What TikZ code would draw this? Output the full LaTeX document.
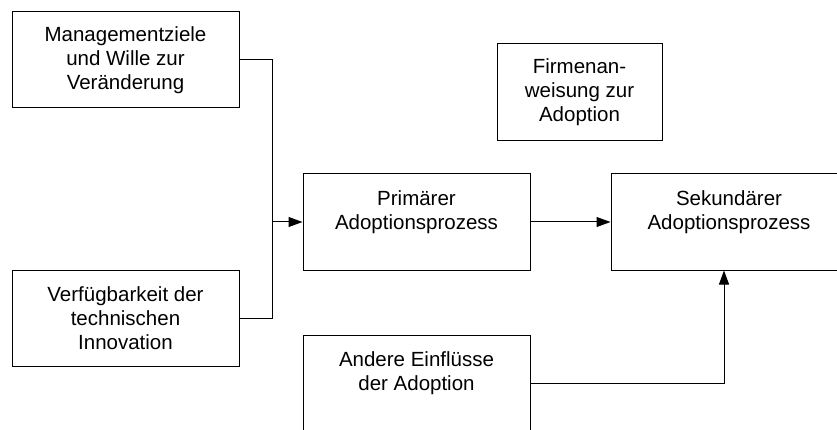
\documentclass[tikz,border=0pt]{standalone}
\usepackage{fontspec}
\setmainfont{Liberation Sans}
\usetikzlibrary{arrows.meta,positioning}

\begin{document}
\begin{tikzpicture}[
  x=1pt,y=-1pt,
  box/.style={draw, line width=1pt, align=center, minimum width=227pt, minimum height=96pt, font=\fontsize{20.5}{24}\selectfont, inner sep=0pt},
  arr/.style={-{Triangle[length=14pt,width=10pt]}, line width=1pt}
]
\clip (0,0) rectangle (837,430);
\node[box] (ziele) at (125.5,60) {Managementziele\\und Wille zur\\Veränderung};
\node[box] (verfueg) at (125.5,318.5) {Verfügbarkeit der\\technischen\\Innovation};
\node[box] (primaer) at (416.5,222) {Primärer\\Adoptionsprozess\\~};
\node[box, minimum width=236pt] (sekundaer) at (729,222) {Sekundärer\\Adoptionsprozess\\~};
\node[box, minimum width=165pt, minimum height=97pt] (weisung) at (579.5,92.5) {Firmenan-\\weisung zur\\Adoption};
\node[box] (andere) at (416.5,383) {Andere Einflüsse\\der Adoption\\~};
\coordinate (join) at (272,222);
\draw[line width=1pt] (ziele.east) -| (join); \draw[line width=1pt] (verfueg.east) -| (join);
\draw[arr] (join) -- (primaer); \draw[arr] (primaer) -- (sekundaer);
\draw[arr] (andere.east) -| ([xshift=-5pt]sekundaer.south);
\end{tikzpicture}
\end{document}
